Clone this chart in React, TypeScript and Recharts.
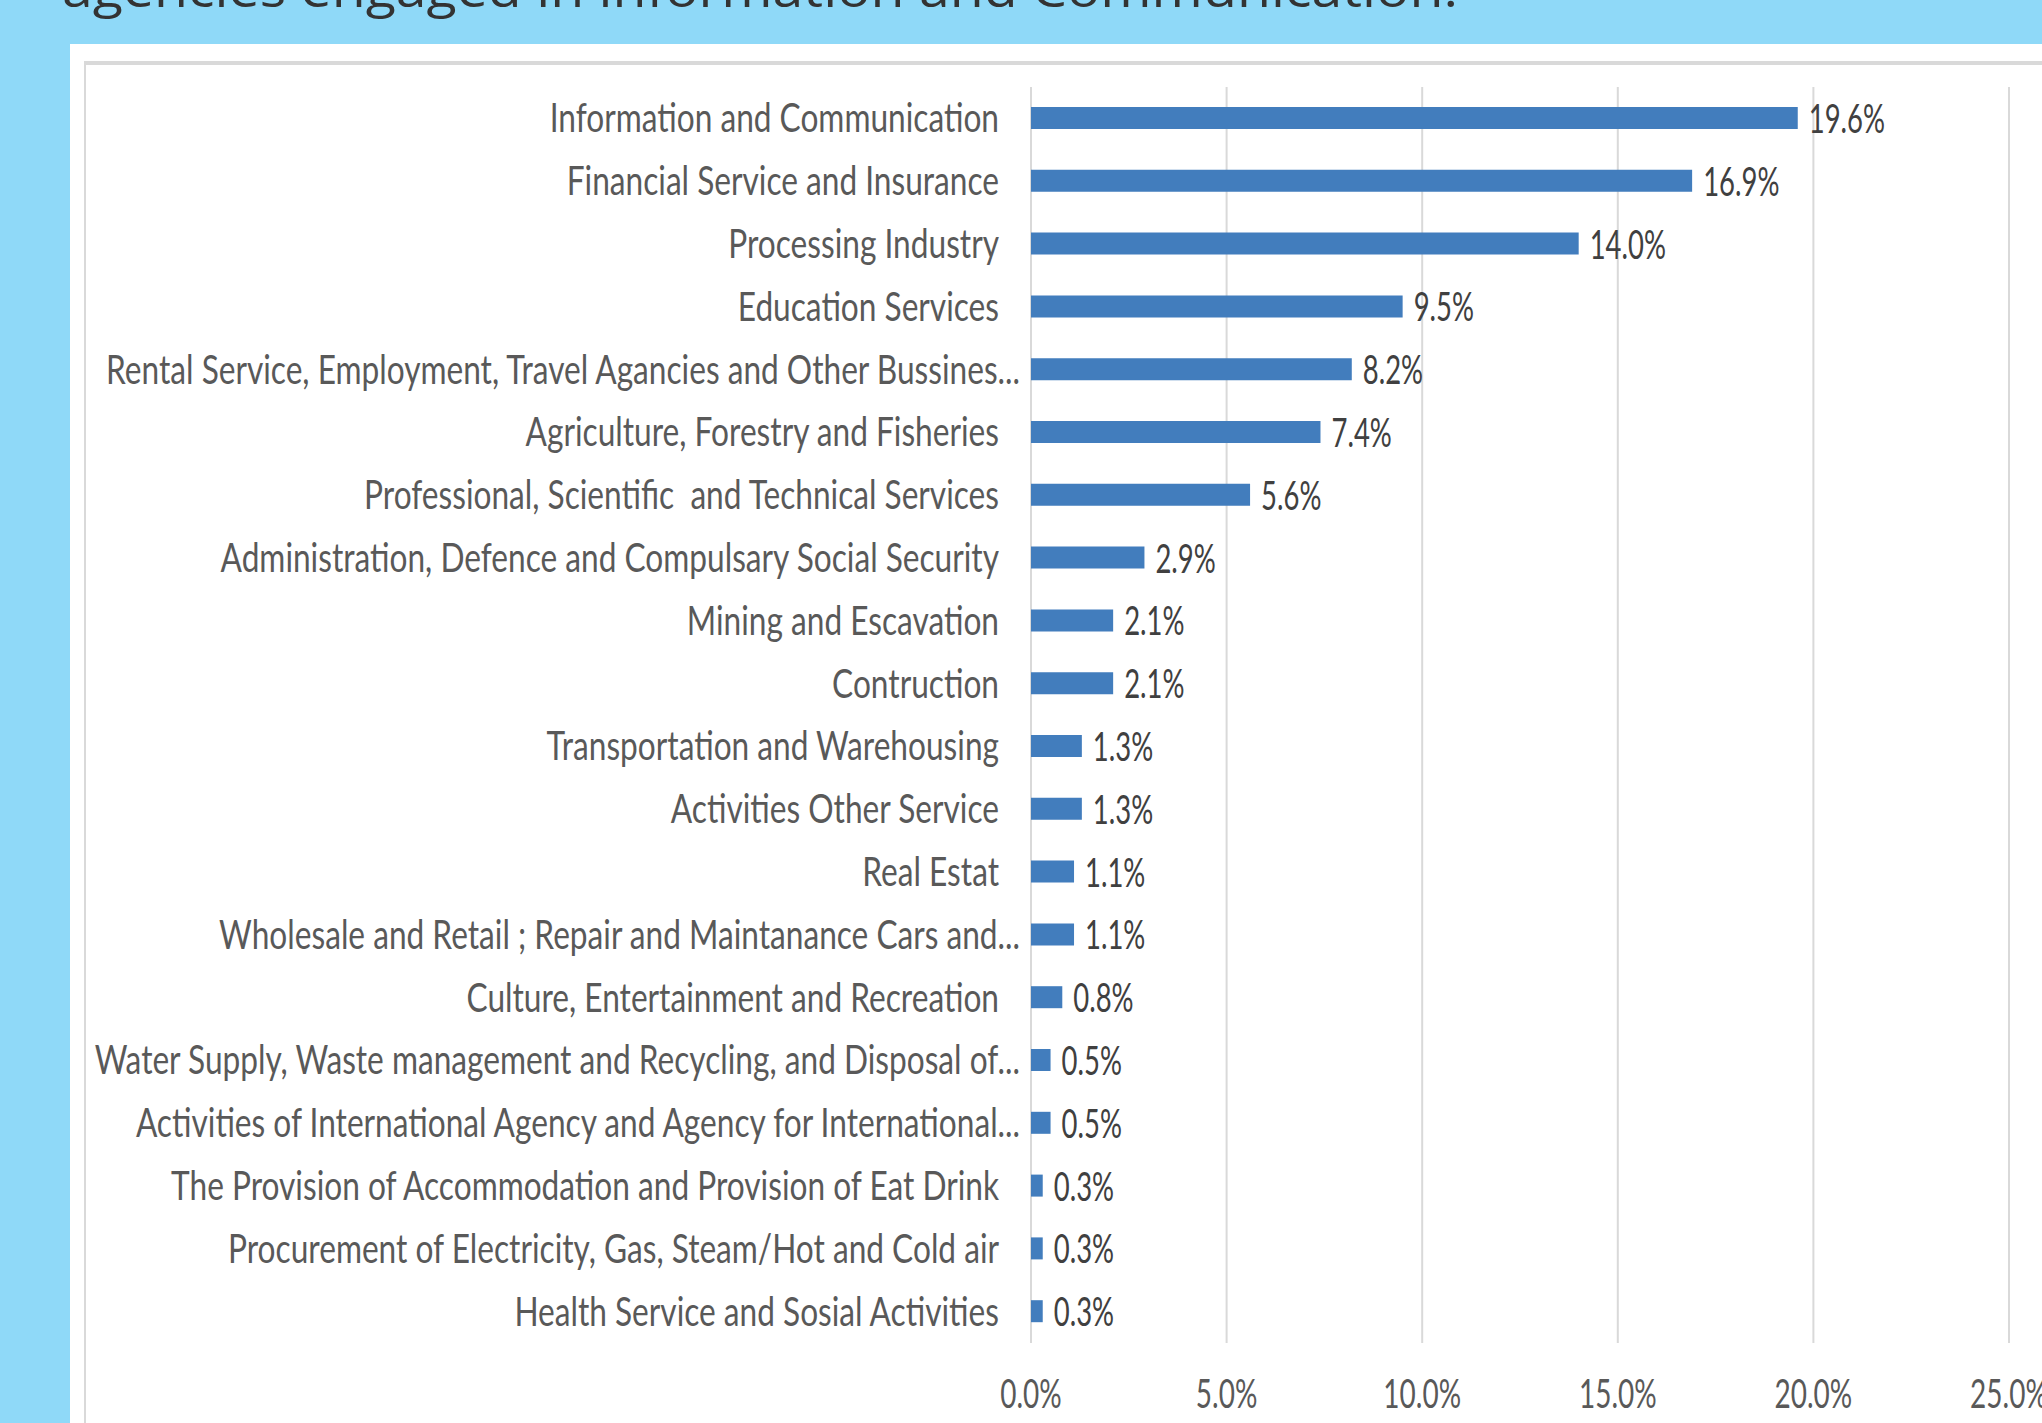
import React from 'react';
import { BarChart, Bar, XAxis, YAxis, CartesianGrid, LabelList } from 'recharts';

const categories: string[] = [
  'Information and Communication',
  'Financial Service and Insurance',
  'Processing Industry',
  'Education Services',
  'Rental Service, Employment, Travel Agancies and Other Bussines...',
  'Agriculture, Forestry and Fisheries',
  'Professional, Scientific  and Technical Services',
  'Administration, Defence and Compulsary Social Security',
  'Mining and Escavation',
  'Contruction',
  'Transportation and Warehousing',
  'Activities Other Service',
  'Real Estat',
  'Wholesale and Retail ; Repair and Maintanance Cars and...',
  'Culture, Entertainment and Recreation',
  'Water Supply, Waste management and Recycling, and Disposal of...',
  'Activities of International Agency and Agency for International...',
  'The Provision of Accommodation and Provision of Eat Drink',
  'Procurement of Electricity, Gas, Steam/Hot and Cold air',
  'Health Service and Sosial Activities',
];

const shares: number[] = [19.6, 16.9, 14.0, 9.5, 8.2, 7.4, 5.6, 2.9, 2.1, 2.1, 1.3, 1.3, 1.1, 1.1, 0.8, 0.5, 0.5, 0.3, 0.3, 0.3];

const xTicks: number[] = [0, 5, 10, 15, 20, 25];

const titleText = 'agencies engaged in information and Communication.';

const data = categories.map((name, i) => ({ name, value: shares[i] }));

const FONT = 'Lato, "Liberation Sans", sans-serif';

function CategoryTick(props: any) {
  const { x, y, payload } = props;
  const label = String(payload.value);
  const ell = label.endsWith('...');
  return (
    <g transform={`translate(${x + (ell ? -3 : -24)},${y + 14})`}>
      <text
        textAnchor="end"
        transform="scale(0.772,1)"
        fontFamily={FONT}
        fontSize={41}
        fill="#595959"
        style={{ whiteSpace: 'pre' }}
      >
        {label}
      </text>
    </g>
  );
}

function ValueTick(props: any) {
  const { x, y, payload } = props;
  return (
    <g transform={`translate(${x},${y + 57})`}>
      <text textAnchor="middle" transform="scale(0.7,1)" fontFamily={FONT} fontSize={40} fill="#595959">
        {Number(payload.value).toFixed(1)}%
      </text>
    </g>
  );
}

function BarValueLabel(props: any) {
  const { x, y, width, height, value } = props;
  return (
    <g transform={`translate(${x + width + 11},${y + height / 2 + 15})`}>
      <text textAnchor="start" transform="scale(0.67,1)" fontFamily={FONT} fontSize={41} fill="#404040">
        {Number(value).toFixed(1)}%
      </text>
    </g>
  );
}

export default function App() {
  return (
    <div
      style={{
        position: 'absolute',
        left: 0,
        top: 0,
        width: 2042,
        height: 1423,
        overflow: 'hidden',
        background: '#8FD9F8',
      }}
    >
      <svg width={2042} height={44} style={{ position: 'absolute', left: 0, top: 0 }}>
        <text
          x={62}
          y={7}
          fontFamily='"Open Sans", sans-serif'
          fontSize={50}
          fill="#333333"
          textLength={1396}
          lengthAdjust="spacingAndGlyphs"
        >
          {titleText}
        </text>
      </svg>
      <div style={{ position: 'absolute', left: 70, top: 44, right: 0, bottom: 0, background: '#ffffff' }} />
      <div
        style={{
          position: 'absolute',
          left: 84,
          top: 61,
          width: 2100,
          height: 1500,
          borderTop: '4px solid #D9D9D9',
          borderLeft: '2px solid #D9D9D9',
        }}
      />
      <div style={{ position: 'absolute', left: 0, top: 0 }}>
        <BarChart
          width={2042}
          height={1423}
          data={data}
          layout="vertical"
          margin={{ top: 87, right: 33, bottom: 20, left: 31 }}
          barCategoryGap={0}
        >
          <CartesianGrid horizontal={false} vertical={true} stroke="#D9D9D9" strokeWidth={2} />
          <XAxis
            type="number"
            domain={[0, 25]}
            ticks={xTicks}
            axisLine={false}
            tickLine={false}
            height={60}
            interval={0}
            tick={<ValueTick />}
          />
          <YAxis
            type="category"
            dataKey="name"
            width={1000}
            axisLine={false}
            tickLine={false}
            interval={0}
            tick={<CategoryTick />}
          />
          <Bar dataKey="value" fill="#427DBD" barSize={22} isAnimationActive={false}>
            <LabelList dataKey="value" content={<BarValueLabel />} />
          </Bar>
        </BarChart>
      </div>
    </div>
  );
}
